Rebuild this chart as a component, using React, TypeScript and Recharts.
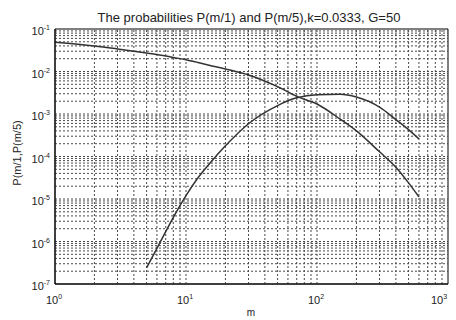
import { LineChart, Line, XAxis, YAxis, ReferenceLine, ReferenceArea } from 'recharts'

// m values
const mValues = [1, 2, 3, 5, 6, 7, 8, 10, 12, 15, 20, 30, 50, 70, 100, 150, 200, 300, 400, 500, 600]

// P(m/1), falling curve
const p1Values = [
  0.049, 0.040, 0.034, 0.0272, 0.025, 0.0232, 0.0214, 0.019, 0.0166, 0.0141, 0.0115,
  0.0083, 0.0044, 0.0026, 0.00172, 0.00076, 0.0004, 0.000129, 5.6e-5, 2.4e-5, 1.12e-5,
]

// P(m/5), starts at m = 5
const p5Values = [
  null, null, null, 2.4e-7, 6.9e-7, 1.7e-6, 3.7e-6, 1.2e-5, 2.8e-5, 6.6e-5, 1.78e-4,
  5.9e-4, 1.58e-3, 2.4e-3, 2.85e-3, 2.9e-3, 2.5e-3, 1.45e-3, 7.4e-4, 4.3e-4, 2.6e-4,
]

const xTicks = [1, 10, 100, 1000]
const yTicks = [1e-7, 1e-6, 1e-5, 1e-4, 1e-3, 1e-2, 1e-1]

const titleText = 'The probabilities P(m/1) and P(m/5),k=0.0333, G=50'
const xLabel = 'm'
const yLabel = 'P(m/1,P(m/5)'

const chartData = mValues.map((m, i) => ({ m, p1: p1Values[i], p5: p5Values[i] }))

// log grid: 2..9 inside every decade plus the decade lines themselves
const gridValues = (ticks: number[]) => {
  const out: number[] = []
  ticks.slice(0, -1).forEach((t, i) => {
    for (let k = i === 0 ? 2 : 1; k <= 9; k++) out.push(t * k)
  })
  return out
}

const font = '"Liberation Sans", Arial, sans-serif'
const gridColor = '#4a4a4a'

const expOf = (v: number) => Math.round(Math.log10(v))

const XTick = ({ x, y, payload }: any) => (
  <text x={x - 1} y={y + 12} textAnchor="middle" fontSize={11} fontFamily={font} fill="#222">
    10<tspan dy={-5} fontSize={7}>{expOf(payload.value)}</tspan>
  </text>
)

const YTick = ({ x, y, payload }: any) => (
  <text x={x + 3} y={y + 6} textAnchor="end" fontSize={11} fontFamily={font} fill="#222">
    10<tspan dy={-5} fontSize={7}>{expOf(payload.value)}</tspan>
  </text>
)

export default function App() {
  return (
    <div style={{ position: 'absolute', left: 0, top: 0, width: 456, height: 320, background: '#fff' }}>
      <LineChart
        width={456}
        height={320}
        data={chartData}
        margin={{ top: 29, right: 8, left: 10, bottom: 10 }}
      >
        <text x={249} y={22} textAnchor="middle" fontSize={13} fontFamily={font} fill="#222">
          {titleText}
        </text>
        <text x={251} y={316} textAnchor="middle" fontSize={10} fontFamily={font} fill="#222">
          {xLabel}
        </text>
        <text
          x={21}
          y={153}
          textAnchor="middle"
          fontSize={11}
          fontFamily={font}
          fill="#222"
          transform="rotate(-90 21 153)"
        >
          {yLabel}
        </text>
        <XAxis
          dataKey="m"
          type="number"
          scale="log"
          domain={[1, 1000]}
          ticks={xTicks}
          allowDataOverflow
          tickLine={false}
          axisLine={{ stroke: '#000' }}
          tick={<XTick />}
          height={26}
        />
        <YAxis
          type="number"
          scale="log"
          domain={[1e-7, 1e-1]}
          ticks={yTicks}
          allowDataOverflow
          tickLine={false}
          axisLine={{ stroke: '#000' }}
          tick={<YTick />}
          width={45}
        />
        {gridValues(xTicks).map(v => (
          <ReferenceLine key={'x' + v} x={v} stroke={gridColor} strokeDasharray="2 2" />
        ))}
        {gridValues(yTicks).map(v => (
          <ReferenceLine key={'y' + v} y={v} stroke={gridColor} strokeDasharray="2 2" />
        ))}
        <ReferenceArea x1={1} x2={1000} y1={1e-7} y2={1e-1} fill="none" stroke="#000" strokeWidth={1} ifOverflow="visible" />
        <Line
          type="monotone"
          dataKey="p1"
          stroke="#333"
          strokeWidth={1.5}
          dot={false}
          isAnimationActive={false}
        />
        <Line
          type="monotone"
          dataKey="p5"
          stroke="#333"
          strokeWidth={1.5}
          dot={false}
          connectNulls={false}
          isAnimationActive={false}
        />
      </LineChart>
    </div>
  )
}
